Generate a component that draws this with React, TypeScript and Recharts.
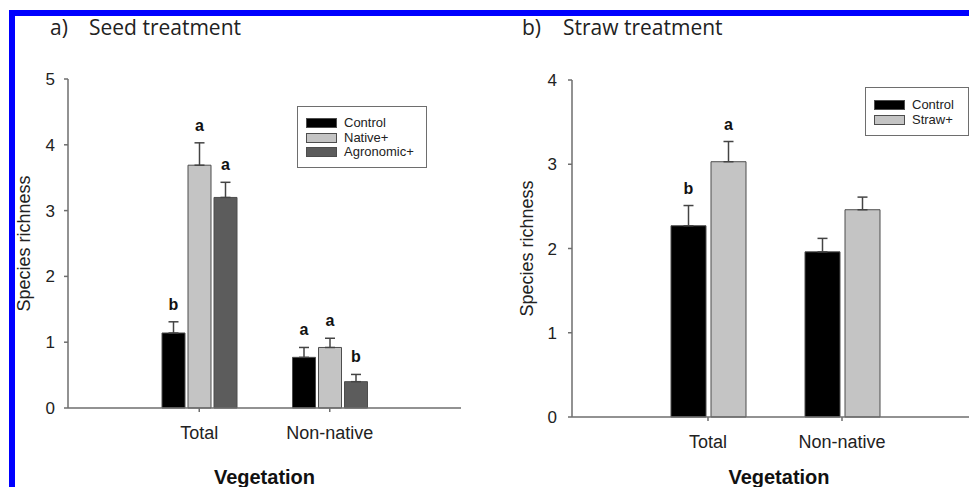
import { BarChart, Bar, XAxis, YAxis, ErrorBar, LabelList, Legend } from 'recharts'

const FONT = 'Arial, "Liberation Sans", sans-serif'
const AXIS = '#6e6e6e'
const EDGE = '#4d4d4d'
const BLACK = '#000000'
const LIGHT = '#c4c4c4'
const DARK = '#5c5c5c'

const CATEGORIES = ['Total', 'Non-native']

// a) seed treatment
const SEED_CONTROL = [1.14, 0.77]
const SEED_CONTROL_SE = [0.17, 0.15]
const SEED_NATIVE = [3.69, 0.92]
const SEED_NATIVE_SE = [0.34, 0.14]
const SEED_AGRO = [3.2, 0.4]
const SEED_AGRO_SE = [0.23, 0.11]
const SEED_CONTROL_LETTERS = ['b', 'a']
const SEED_NATIVE_LETTERS = ['a', 'a']
const SEED_AGRO_LETTERS = ['a', 'b']
const SEED_TICKS = [0, 1, 2, 3, 4, 5]

// b) straw treatment
const STRAW_CONTROL = [2.27, 1.96]
const STRAW_CONTROL_SE = [0.24, 0.16]
const STRAW_PLUS = [3.03, 2.46]
const STRAW_PLUS_SE = [0.24, 0.15]
const STRAW_CONTROL_LETTERS = ['b', '']
const STRAW_PLUS_LETTERS = ['a', '']
const STRAW_TICKS = [0, 1, 2, 3, 4]

const seedData = CATEGORIES.map((name, i) => ({
  name,
  control: SEED_CONTROL[i],
  controlErr: [0, SEED_CONTROL_SE[i]],
  native: SEED_NATIVE[i],
  nativeErr: [0, SEED_NATIVE_SE[i]],
  agro: SEED_AGRO[i],
  agroErr: [0, SEED_AGRO_SE[i]],
}))

const strawData = CATEGORIES.map((name, i) => ({
  name,
  control: STRAW_CONTROL[i],
  controlErr: [0, STRAW_CONTROL_SE[i]],
  straw: STRAW_PLUS[i],
  strawErr: [0, STRAW_PLUS_SE[i]],
}))

// significance letter sits just above the error bar cap
const letterContent =
  (letters: string[], values: number[], ses: number[]) => (props: any) => {
    const vb = props.viewBox ?? props
    const index = props.index
    if (index == null || !letters[index]) return null
    const x = Number(vb.x ?? props.x)
    const y = Number(vb.y ?? props.y)
    const w = Number(vb.width ?? props.width)
    const h = Number(vb.height ?? props.height)
    const pxPerUnit = h / values[index]
    const errTop = y - ses[index] * pxPerUnit
    return (
      <text
        x={x + w / 2}
        y={errTop - 12}
        textAnchor='middle'
        fontFamily={FONT}
        fontWeight='bold'
        fontSize={16}
        fill='#111'
      >
        {letters[index]}
      </text>
    )
  }

const yLabel = (baseX: number) => (props: any) => {
  const vb = props.viewBox ?? {}
  const cy = Number(vb.y) + Number(vb.height) / 2
  return (
    <text
      x={baseX}
      y={cy}
      transform={`rotate(-90 ${baseX} ${cy})`}
      textAnchor='middle'
      fontFamily={FONT}
      fontSize={18}
      fill='#222'
    >
      Species richness
    </text>
  )
}

const xLabel = (dx: number) => (props: any) => {
  const vb = props.viewBox ?? {}
  const cx = Number(vb.x) + Number(vb.width) / 2 + dx
  return (
    <text
      x={cx}
      y={484}
      textAnchor='middle'
      fontFamily={FONT}
      fontWeight='bold'
      fontSize={20}
      fill='#111'
    >
      Vegetation
    </text>
  )
}

const legendBox =
  (items: { label: string; color: string }[], rowGap: number, top: number) =>
  () => (
    <div
      style={{
        position: 'relative',
        width: '100%',
        height: '100%',
        boxSizing: 'border-box',
        border: `1.5px solid ${AXIS}`,
        background: '#fff',
        fontFamily: FONT,
        fontSize: 13,
        color: '#222',
      }}
    >
      {items.map((it, i) => (
        <div
          key={it.label}
          style={{
            position: 'absolute',
            left: 8,
            top: top + i * rowGap - 8,
            height: 16,
            display: 'flex',
            alignItems: 'center',
          }}
        >
          <span
            style={{
              display: 'inline-block',
              width: 31,
              height: 10,
              background: it.color,
              border: `1px solid ${EDGE}`,
              boxSizing: 'border-box',
              marginRight: 7,
            }}
          />
          <span style={{ lineHeight: '16px' }}>{it.label}</span>
        </div>
      ))}
    </div>
  )

const axisLine = { stroke: AXIS, strokeWidth: 1.5 }
const yTick = { fontSize: 17, fill: '#222', fontFamily: FONT }
const xTick = { fontSize: 18, fill: '#222', fontFamily: FONT }

const SeedChart = () => (
  <BarChart
    width={480}
    height={487}
    data={seedData}
    margin={{ top: 79, right: 19, bottom: 49, left: 28 }}
    barGap={3}
  >
    <XAxis
      dataKey='name'
      height={30}
      padding={{ left: 66, right: 66 }}
      axisLine={axisLine}
      tickLine={axisLine}
      tickSize={4}
      tickMargin={14}
      tick={xTick}
      label={xLabel(0)}
    />
    <XAxis
      xAxisId='top'
      orientation='top'
      dataKey='name'
      height={0}
      tick={false}
      tickLine={false}
      axisLine={axisLine}
    />
    <YAxis
      type='number'
      domain={[0, 5]}
      ticks={SEED_TICKS}
      interval={0}
      width={40}
      axisLine={axisLine}
      tickLine={axisLine}
      tickSize={4}
      tickMargin={9}
      tick={yTick}
      label={yLabel(30)}
    />
    <YAxis
      yAxisId='right'
      orientation='right'
      type='number'
      domain={[0, 5]}
      width={0}
      tick={false}
      tickLine={false}
      axisLine={axisLine}
    />
    <Legend
      layout='horizontal'
      verticalAlign='middle'
      align='center'
      wrapperStyle={{ left: 297, top: 106, width: 130, height: 62 }}
      content={legendBox(
        [
          { label: 'Control', color: BLACK },
          { label: 'Native+', color: LIGHT },
          { label: 'Agronomic+', color: DARK },
        ],
        14.5,
        16
      )}
    />
    <Bar dataKey='control' fill={BLACK} stroke={EDGE} strokeWidth={1} barSize={23} isAnimationActive={false}>
      <ErrorBar dataKey='controlErr' direction='y' width={5} stroke='#444' strokeWidth={1.5} />
      <LabelList dataKey='control' content={letterContent(SEED_CONTROL_LETTERS, SEED_CONTROL, SEED_CONTROL_SE)} />
    </Bar>
    <Bar dataKey='native' fill={LIGHT} stroke={EDGE} strokeWidth={1} barSize={23} isAnimationActive={false}>
      <ErrorBar dataKey='nativeErr' direction='y' width={5} stroke='#444' strokeWidth={1.5} />
      <LabelList dataKey='native' content={letterContent(SEED_NATIVE_LETTERS, SEED_NATIVE, SEED_NATIVE_SE)} />
    </Bar>
    <Bar dataKey='agro' fill={DARK} stroke={EDGE} strokeWidth={1} barSize={23} isAnimationActive={false}>
      <ErrorBar dataKey='agroErr' direction='y' width={5} stroke='#444' strokeWidth={1.5} />
      <LabelList dataKey='agro' content={letterContent(SEED_AGRO_LETTERS, SEED_AGRO, SEED_AGRO_SE)} />
    </Bar>
  </BarChart>
)

const StrawChart = () => (
  <BarChart
    width={500}
    height={487}
    data={strawData}
    margin={{ top: 80, right: 12, bottom: 40, left: 42 }}
    barGap={5}
  >
    <XAxis
      dataKey='name'
      height={30}
      padding={{ left: 69, right: 69 }}
      axisLine={axisLine}
      tickLine={axisLine}
      tickSize={4}
      tickMargin={14}
      tick={xTick}
      label={xLabel(4)}
    />
    <XAxis
      xAxisId='top'
      orientation='top'
      dataKey='name'
      height={0}
      tick={false}
      tickLine={false}
      axisLine={axisLine}
    />
    <YAxis
      type='number'
      domain={[0, 4]}
      ticks={STRAW_TICKS}
      interval={0}
      width={40}
      axisLine={axisLine}
      tickLine={axisLine}
      tickSize={4}
      tickMargin={11}
      tick={yTick}
      label={yLabel(43)}
    />
    <Legend
      layout='horizontal'
      verticalAlign='middle'
      align='center'
      wrapperStyle={{ left: 375, top: 87, width: 104, height: 49 }}
      content={legendBox(
        [
          { label: 'Control', color: BLACK },
          { label: 'Straw+', color: LIGHT },
        ],
        15,
        17
      )}
    />
    <Bar dataKey='control' fill={BLACK} stroke={EDGE} strokeWidth={1} barSize={35} isAnimationActive={false}>
      <ErrorBar dataKey='controlErr' direction='y' width={5} stroke='#444' strokeWidth={1.5} />
      <LabelList dataKey='control' content={letterContent(STRAW_CONTROL_LETTERS, STRAW_CONTROL, STRAW_CONTROL_SE)} />
    </Bar>
    <Bar dataKey='straw' fill={LIGHT} stroke={EDGE} strokeWidth={1} barSize={35} isAnimationActive={false}>
      <ErrorBar dataKey='strawErr' direction='y' width={5} stroke='#444' strokeWidth={1.5} />
      <LabelList dataKey='straw' content={letterContent(STRAW_PLUS_LETTERS, STRAW_PLUS, STRAW_PLUS_SE)} />
    </Bar>
  </BarChart>
)

const titleStyle = { fontFamily: '"Open Sans", sans-serif', fontSize: 21, fill: '#222' }

export default function App() {
  return (
    <div
      style={{
        position: 'absolute',
        left: 0,
        top: 0,
        width: 969,
        height: 487,
        overflow: 'hidden',
        background: '#fff',
      }}
    >
      <div style={{ position: 'absolute', left: 0, top: 0 }}>
        <SeedChart />
      </div>
      <div style={{ position: 'absolute', left: 490, top: 0 }}>
        <StrawChart />
      </div>
      <svg
        width={969}
        height={487}
        style={{ position: 'absolute', left: 0, top: 0, pointerEvents: 'none' }}
      >
        <text x={50} y={35} {...titleStyle}>a)</text>
        <text x={89} y={35} {...titleStyle}>Seed treatment</text>
        <text x={522} y={35} {...titleStyle}>b)</text>
        <text x={563} y={35} {...titleStyle}>Straw treatment</text>
      </svg>
      <div style={{ position: 'absolute', left: 9, top: 10, width: 960, height: 6, background: '#0000ff' }} />
      <div style={{ position: 'absolute', left: 9, top: 10, width: 6, height: 477, background: '#0000ff' }} />
    </div>
  )
}
